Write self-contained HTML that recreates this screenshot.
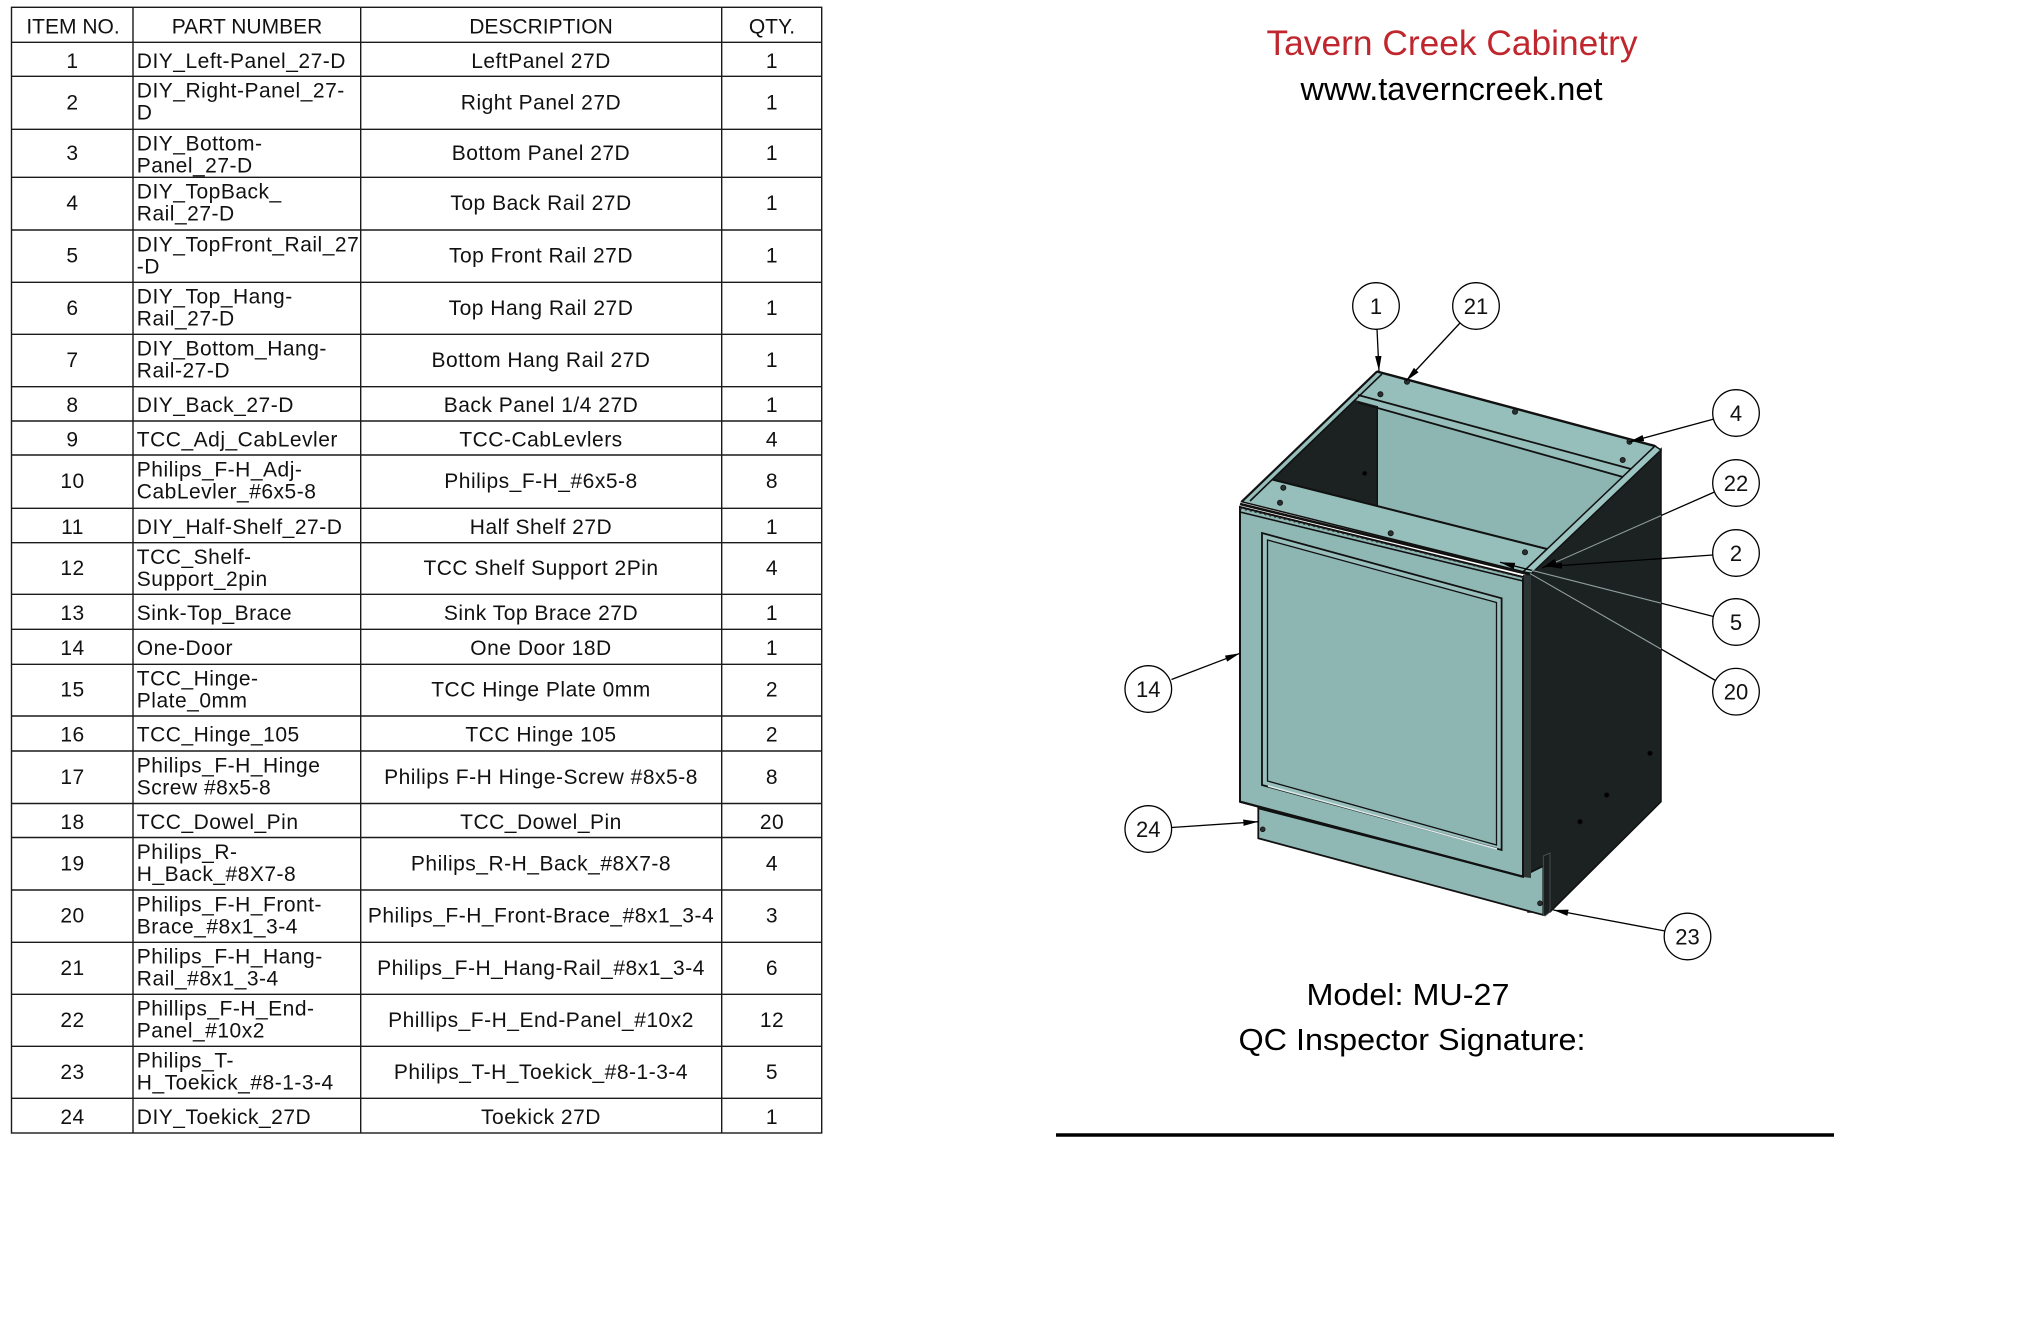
<!DOCTYPE html>
<html><head><meta charset="utf-8"><style>
html,body{margin:0;padding:0;background:#fff}
svg{display:block}
.t{font-family:"Liberation Sans",Arial,sans-serif;font-size:21px;letter-spacing:0.5px;fill:#111}
.h{font-family:"Liberation Sans",Arial,sans-serif;font-size:21px;fill:#111}
.b{font-family:"Liberation Sans",Arial,sans-serif;font-size:22px;fill:#111}
</style></head><body>
<svg width="2040" height="1320" viewBox="0 0 2040 1320" xmlns="http://www.w3.org/2000/svg">
<defs>
<marker id="ah" markerWidth="16" markerHeight="8" refX="15" refY="4" orient="auto" markerUnits="userSpaceOnUse"><path d="M0,0.8 L15,4 L0,7.2 z" fill="#000"/></marker>
<clipPath id="dk"><polygon points="1528,574 1661,449 1661,801.7 1550,912 1528,912"/></clipPath>
</defs>
<rect width="2040" height="1320" fill="#fff"/>

<!-- TABLE -->
<g stroke="#1a1a1a" stroke-width="1.4" fill="none">
<rect x="11.5" y="7.3" width="810.2" height="1125.7"/>
<line x1="133" y1="7.3" x2="133" y2="1133"/>
<line x1="360.7" y1="7.3" x2="360.7" y2="1133"/>
<line x1="721.7" y1="7.3" x2="721.7" y2="1133"/>
<line x1="11.5" y1="42.3" x2="821.7" y2="42.3"/>
<line x1="11.5" y1="76.3" x2="821.7" y2="76.3"/>
<line x1="11.5" y1="129.3" x2="821.7" y2="129.3"/>
<line x1="11.5" y1="177.3" x2="821.7" y2="177.3"/>
<line x1="11.5" y1="230" x2="821.7" y2="230"/>
<line x1="11.5" y1="282.3" x2="821.7" y2="282.3"/>
<line x1="11.5" y1="334.3" x2="821.7" y2="334.3"/>
<line x1="11.5" y1="386.7" x2="821.7" y2="386.7"/>
<line x1="11.5" y1="421" x2="821.7" y2="421"/>
<line x1="11.5" y1="455" x2="821.7" y2="455"/>
<line x1="11.5" y1="508.3" x2="821.7" y2="508.3"/>
<line x1="11.5" y1="542.7" x2="821.7" y2="542.7"/>
<line x1="11.5" y1="594.3" x2="821.7" y2="594.3"/>
<line x1="11.5" y1="629.3" x2="821.7" y2="629.3"/>
<line x1="11.5" y1="664.3" x2="821.7" y2="664.3"/>
<line x1="11.5" y1="716" x2="821.7" y2="716"/>
<line x1="11.5" y1="751" x2="821.7" y2="751"/>
<line x1="11.5" y1="803.5" x2="821.7" y2="803.5"/>
<line x1="11.5" y1="837.5" x2="821.7" y2="837.5"/>
<line x1="11.5" y1="890" x2="821.7" y2="890"/>
<line x1="11.5" y1="942.3" x2="821.7" y2="942.3"/>
<line x1="11.5" y1="994.3" x2="821.7" y2="994.3"/>
<line x1="11.5" y1="1046.3" x2="821.7" y2="1046.3"/>
<line x1="11.5" y1="1098.3" x2="821.7" y2="1098.3"/>
</g>

<g class="h" text-anchor="middle">
<text x="73" y="33.3">ITEM NO.</text>
<text x="247" y="33.3">PART NUMBER</text>
<text x="541" y="33.3">DESCRIPTION</text>
<text x="772" y="33.3">QTY.</text>
</g>

<!-- item numbers -->
<g class="t" text-anchor="middle">
<text x="72.5" y="67.8">1</text>
<text x="72.5" y="109.3">2</text>
<text x="72.5" y="159.8">3</text>
<text x="72.5" y="210.2">4</text>
<text x="72.5" y="262.7">5</text>
<text x="72.5" y="314.8">6</text>
<text x="72.5" y="367">7</text>
<text x="72.5" y="412.2">8</text>
<text x="72.5" y="446.5">9</text>
<text x="72.5" y="488.2">10</text>
<text x="72.5" y="533.8">11</text>
<text x="72.5" y="575">12</text>
<text x="72.5" y="619.8">13</text>
<text x="72.5" y="654.8">14</text>
<text x="72.5" y="696.7">15</text>
<text x="72.5" y="741.5">16</text>
<text x="72.5" y="783.8">17</text>
<text x="72.5" y="829">18</text>
<text x="72.5" y="870.3">19</text>
<text x="72.5" y="922.7">20</text>
<text x="72.5" y="974.8">21</text>
<text x="72.5" y="1026.8">22</text>
<text x="72.5" y="1078.8">23</text>
<text x="72.5" y="1123.8">24</text>
</g>

<!-- part numbers -->
<g class="t">
<text x="136.8" y="67.8">DIY_Left-Panel_27-D</text>
<text x="136.8" y="97.6">DIY_Right-Panel_27-</text><text x="136.8" y="119.6">D</text>
<text x="136.8" y="150.6">DIY_Bottom-</text><text x="136.8" y="172.6">Panel_27-D</text>
<text x="136.8" y="198.6">DIY_TopBack_</text><text x="136.8" y="220.6">Rail_27-D</text>
<text x="136.8" y="251.3">DIY_TopFront_Rail_27</text><text x="136.8" y="273.3">-D</text>
<text x="136.8" y="303.6">DIY_Top_Hang-</text><text x="136.8" y="325.6">Rail_27-D</text>
<text x="136.8" y="355.6">DIY_Bottom_Hang-</text><text x="136.8" y="377.6">Rail-27-D</text>
<text x="136.8" y="412.2">DIY_Back_27-D</text>
<text x="136.8" y="446.5">TCC_Adj_CabLevler</text>
<text x="136.8" y="476.3">Philips_F-H_Adj-</text><text x="136.8" y="498.3">CabLevler_#6x5-8</text>
<text x="136.8" y="533.8">DIY_Half-Shelf_27-D</text>
<text x="136.8" y="564">TCC_Shelf-</text><text x="136.8" y="586">Support_2pin</text>
<text x="136.8" y="619.8">Sink-Top_Brace</text>
<text x="136.8" y="654.8">One-Door</text>
<text x="136.8" y="685.6">TCC_Hinge-</text><text x="136.8" y="707.6">Plate_0mm</text>
<text x="136.8" y="741.5">TCC_Hinge_105</text>
<text x="136.8" y="772.3">Philips_F-H_Hinge</text><text x="136.8" y="794.3">Screw #8x5-8</text>
<text x="136.8" y="829">TCC_Dowel_Pin</text>
<text x="136.8" y="858.8">Philips_R-</text><text x="136.8" y="880.8">H_Back_#8X7-8</text>
<text x="136.8" y="911.3">Philips_F-H_Front-</text><text x="136.8" y="933.3">Brace_#8x1_3-4</text>
<text x="136.8" y="963.6">Philips_F-H_Hang-</text><text x="136.8" y="985.6">Rail_#8x1_3-4</text>
<text x="136.8" y="1015.6">Phillips_F-H_End-</text><text x="136.8" y="1037.6">Panel_#10x2</text>
<text x="136.8" y="1067.6">Philips_T-</text><text x="136.8" y="1089.6">H_Toekick_#8-1-3-4</text>
<text x="136.8" y="1123.8">DIY_Toekick_27D</text>
</g>

<!-- descriptions -->
<g class="t" text-anchor="middle">
<text x="541" y="67.8">LeftPanel 27D</text>
<text x="541" y="109.3">Right Panel 27D</text>
<text x="541" y="159.8">Bottom Panel 27D</text>
<text x="541" y="210.2">Top Back Rail 27D</text>
<text x="541" y="262.7">Top Front Rail 27D</text>
<text x="541" y="314.8">Top Hang Rail 27D</text>
<text x="541" y="367">Bottom Hang Rail 27D</text>
<text x="541" y="412.2">Back Panel 1/4 27D</text>
<text x="541" y="446.5">TCC-CabLevlers</text>
<text x="541" y="488.2">Philips_F-H_#6x5-8</text>
<text x="541" y="533.8">Half Shelf 27D</text>
<text x="541" y="575">TCC Shelf Support 2Pin</text>
<text x="541" y="619.8">Sink Top Brace 27D</text>
<text x="541" y="654.8">One Door 18D</text>
<text x="541" y="696.7">TCC Hinge Plate 0mm</text>
<text x="541" y="741.5">TCC Hinge 105</text>
<text x="541" y="783.8">Philips F-H Hinge-Screw #8x5-8</text>
<text x="541" y="829">TCC_Dowel_Pin</text>
<text x="541" y="870.3">Philips_R-H_Back_#8X7-8</text>
<text x="541" y="922.7">Philips_F-H_Front-Brace_#8x1_3-4</text>
<text x="541" y="974.8">Philips_F-H_Hang-Rail_#8x1_3-4</text>
<text x="541" y="1026.8">Phillips_F-H_End-Panel_#10x2</text>
<text x="541" y="1078.8">Philips_T-H_Toekick_#8-1-3-4</text>
<text x="541" y="1123.8">Toekick 27D</text>
</g>

<!-- qty -->
<g class="t" text-anchor="middle">
<text x="772" y="67.8">1</text>
<text x="772" y="109.3">1</text>
<text x="772" y="159.8">1</text>
<text x="772" y="210.2">1</text>
<text x="772" y="262.7">1</text>
<text x="772" y="314.8">1</text>
<text x="772" y="367">1</text>
<text x="772" y="412.2">1</text>
<text x="772" y="446.5">4</text>
<text x="772" y="488.2">8</text>
<text x="772" y="533.8">1</text>
<text x="772" y="575">4</text>
<text x="772" y="619.8">1</text>
<text x="772" y="654.8">1</text>
<text x="772" y="696.7">2</text>
<text x="772" y="741.5">2</text>
<text x="772" y="783.8">8</text>
<text x="772" y="829">20</text>
<text x="772" y="870.3">4</text>
<text x="772" y="922.7">3</text>
<text x="772" y="974.8">6</text>
<text x="772" y="1026.8">12</text>
<text x="772" y="1078.8">5</text>
<text x="772" y="1123.8">1</text>
</g>

<!-- TITLE -->
<text x="1452" y="55" text-anchor="middle" font-family="Liberation Sans, Arial, sans-serif" font-size="35" fill="#c0262d" textLength="371" lengthAdjust="spacingAndGlyphs">Tavern Creek Cabinetry</text>
<text x="1451.5" y="100" text-anchor="middle" font-family="Liberation Sans, Arial, sans-serif" font-size="32" fill="#000" textLength="302" lengthAdjust="spacingAndGlyphs">www.taverncreek.net</text>

<!-- CABINET -->
<polygon points="1528,574 1661,449 1661,801.7 1550,912 1528,912" fill="#1c2222" stroke="#111" stroke-width="1.5"/>
<polygon points="1258.3,808.3 1523,876 1543.3,866 1543.3,915 1258.3,838.3" fill="#8fb8b5" stroke="#111" stroke-width="1.8"/>
<polygon points="1543.3,856 1550,853 1550,912 1545,916 1543.3,915" fill="#1a1f1f" stroke="#555" stroke-width="0.8"/>
<polygon points="1241.7,501.7 1377,371.5 1655,446 1523.3,571.7" fill="#96beba" stroke="#111" stroke-width="1.5"/>
<polygon points="1377.3,408 1622.5,477 1547,549 1377.3,505.5" fill="#8db5b2"/>
<polygon points="1355,400 1377.3,406 1377.3,505.5 1272.3,479.5" fill="#1c2222"/>
<polygon points="1523.3,571.7 1655,446 1661,450 1531.7,573.3" fill="#9cc4c1" stroke="#111" stroke-width="1.5"/>
<g stroke="#111" fill="none">
<line x1="1241.7" y1="501.7" x2="1377" y2="371.5" stroke-width="2.2"/>
<line x1="1250" y1="501" x2="1382" y2="374" stroke-width="1.6"/>
<line x1="1377" y1="371.5" x2="1655" y2="446" stroke-width="2.4"/>
<line x1="1358" y1="395" x2="1631" y2="469" stroke-width="1.8"/>
<line x1="1358" y1="402.5" x2="1623" y2="477" stroke-width="1.8"/>
<line x1="1377.3" y1="406" x2="1377.3" y2="505.5" stroke-width="1.4"/>
<line x1="1272.3" y1="479.5" x2="1547" y2="549" stroke-width="2"/>
</g>

<polygon points="1523,575 1531,574 1531,878 1523,877" fill="#2c3434"/>
<polygon points="1240,507 1523,577 1523,876.7 1240,801.7" fill="#8fb8b5" stroke="#111" stroke-width="2"/>
<polygon points="1262,533 1501.6,598.3 1501.6,850 1262,785" fill="#98bfbc" stroke="#111" stroke-width="1.8"/>
<polygon points="1267.5,540 1496.5,602.5 1496.5,845 1267.5,781" fill="#8db6b3" stroke="#111" stroke-width="1.3"/>
<line x1="1268" y1="786" x2="1497" y2="849" stroke="#dcebea" stroke-width="1.5"/>
<g fill="none">
<line x1="1240" y1="504" x2="1530" y2="574.5" stroke="#111" stroke-width="2.6"/>
<line x1="1240" y1="508.5" x2="1524" y2="578" stroke="#333" stroke-width="1.2" stroke-dasharray="2 3"/>
<line x1="1240" y1="512" x2="1523" y2="581" stroke="#111" stroke-width="1.6"/>
</g>
<line x1="1240" y1="801.7" x2="1523" y2="876.7" stroke="#111" stroke-width="2.2"/>

<g fill="#2a2f2f" stroke="#111" stroke-width="0.8">
<circle cx="1380.4" cy="394.3" r="2.6"/>
<circle cx="1407" cy="381.7" r="2.6"/>
<circle cx="1515" cy="411.7" r="2.6"/>
<circle cx="1629.5" cy="441.7" r="2.6"/>
<circle cx="1622.7" cy="460" r="2.6"/>
<circle cx="1283.3" cy="487.7" r="2.6"/>
<circle cx="1280" cy="502.7" r="2.6"/>
<circle cx="1390.7" cy="533.3" r="2.6"/>
<circle cx="1525" cy="552.3" r="2.6"/>
<circle cx="1262.7" cy="829.3" r="2.4"/>
<circle cx="1540" cy="903.3" r="2.4"/>
<circle cx="1650" cy="753.3" r="2.4" fill="#000"/>
<circle cx="1606.7" cy="795" r="2.4" fill="#000"/>
<circle cx="1580" cy="821.7" r="2.4" fill="#000"/>
<circle cx="1364.7" cy="473.3" r="2.2" fill="#000"/>
</g>

<!-- LEADERS -->
<g stroke="#000" stroke-width="1.3" fill="none" marker-end="url(#ah)">
<line x1="1377" y1="329" x2="1379" y2="371"/>
<line x1="1460" y1="323" x2="1406" y2="381"/>
<line x1="1714" y1="419" x2="1629" y2="442"/>
<line x1="1714.5" y1="492" x2="1542" y2="568"/>
<line x1="1713" y1="555" x2="1547" y2="566.5"/>
<line x1="1713.5" y1="616.5" x2="1500" y2="562.3"/>
<line x1="1171.5" y1="679.5" x2="1240" y2="653.3"/>
<line x1="1171.5" y1="827.5" x2="1258.3" y2="821.7"/>
<line x1="1665" y1="931" x2="1553.3" y2="910"/>
</g>
<line x1="1715.5" y1="680.5" x2="1530" y2="573.5" stroke="#000" stroke-width="1.3"/>
<g clip-path="url(#dk)" stroke="#8e9c9b" stroke-width="1.2" fill="none">
<line x1="1714.5" y1="492" x2="1556" y2="562"/>
<line x1="1713.5" y1="616.5" x2="1500" y2="562.3"/>
<line x1="1715.5" y1="680.5" x2="1530" y2="573.5"/>
</g>

<!-- BALLOONS -->
<g fill="#fff" stroke="#000" stroke-width="1.3">
<circle cx="1376" cy="306" r="23.3"/>
<circle cx="1476" cy="306" r="23.3"/>
<circle cx="1736" cy="413" r="23.3"/>
<circle cx="1736" cy="483" r="23.3"/>
<circle cx="1736" cy="553" r="23.3"/>
<circle cx="1736" cy="622" r="23.3"/>
<circle cx="1736" cy="691.7" r="23.3"/>
<circle cx="1148.3" cy="689" r="23.3"/>
<circle cx="1148.3" cy="829" r="23.3"/>
<circle cx="1687.5" cy="936.5" r="23.3"/>
</g>
<g class="b" text-anchor="middle">
<text x="1376" y="314">1</text>
<text x="1476" y="314">21</text>
<text x="1736" y="421">4</text>
<text x="1736" y="491">22</text>
<text x="1736" y="561">2</text>
<text x="1736" y="630">5</text>
<text x="1736" y="699.7">20</text>
<text x="1148.3" y="697">14</text>
<text x="1148.3" y="837">24</text>
<text x="1687.5" y="944.5">23</text>
</g>

<!-- MODEL / SIGNATURE -->
<text x="1408" y="1005" text-anchor="middle" font-family="Liberation Sans, Arial, sans-serif" font-size="31" fill="#000" textLength="203" lengthAdjust="spacingAndGlyphs">Model: MU-27</text>
<text x="1412" y="1050" text-anchor="middle" font-family="Liberation Sans, Arial, sans-serif" font-size="31" fill="#000" textLength="347" lengthAdjust="spacingAndGlyphs">QC Inspector Signature:</text>
<line x1="1056" y1="1135" x2="1834" y2="1135" stroke="#000" stroke-width="3.5"/>
</svg>
</body></html>
